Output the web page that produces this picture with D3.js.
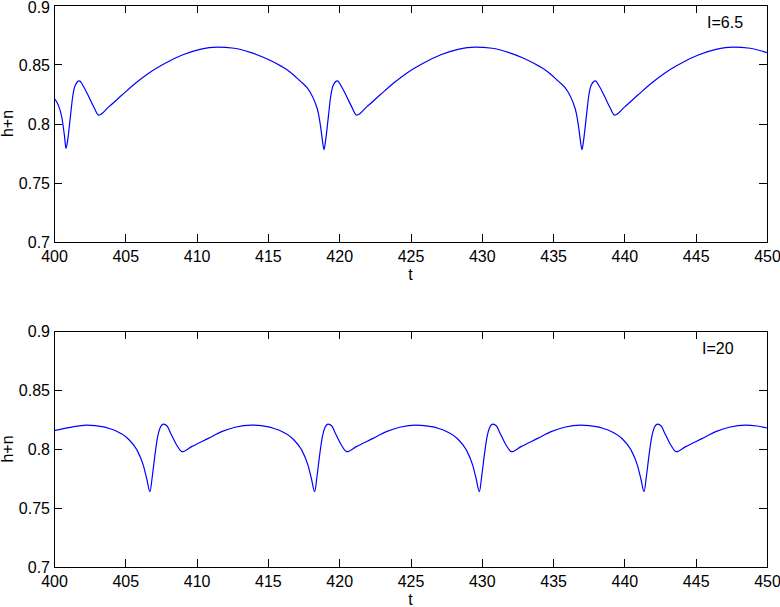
<!DOCTYPE html>
<html>
<head>
<meta charset="utf-8">
<script src="https://cdn.jsdelivr.net/npm/d3@7"></script>
<style>
  html, body { margin: 0; padding: 0; background: #fff; }
  svg { display: block; }
  text { font-family: "Liberation Sans", Arial, Helvetica, sans-serif; fill: #000; }
</style>
</head>
<body>
<svg id="chart" width="780" height="607"></svg>
<script>
// ---------- data ----------
const xDomain = [400, 450];
const yDomain = [0.7, 0.9];
const xTicks = [400, 405, 410, 415, 420, 425, 430, 435, 440, 445, 450];
const yTicks = [0.7, 0.75, 0.8, 0.85, 0.9];
const yTickLabels = ["0.7", "0.75", "0.8", "0.85", "0.9"];
const xLabel = "t";
const yLabel = "h+n";
const panelLabels = ["I=6.5", "I=20"];

// panel 1 (I=6.5)
const t1 = [400.00, 400.30, 400.54, 400.73, 400.84,
  400.96, 401.15, 401.31, 401.50, 401.78, 402.08, 402.44, 402.79, 403.14, 403.84, 404.77, 405.71, 406.64, 407.90, 409.04, 410.24, 411.44, 412.64, 413.82, 414.84, 415.98, 416.55, 417.25, 417.95, 418.30, 418.54, 418.70, 418.82, 418.93,
  419.05, 419.24, 419.40, 419.59, 419.87, 420.17, 420.53, 420.88, 421.23, 421.93, 422.86, 423.80, 424.73, 425.99, 427.13, 428.33, 429.53, 430.73, 431.91, 432.93, 434.07, 434.64, 435.34, 436.04, 436.39, 436.63, 436.79, 436.91, 437.02,
  437.14, 437.33, 437.49, 437.68, 437.96, 438.26, 438.62, 438.97, 439.32, 440.02, 440.95, 441.89, 442.82, 444.08, 445.22, 446.42, 447.62, 448.82, 450.00];
const v1 = [0.8215, 0.8156, 0.8057, 0.7900, 0.7790,
  0.7860, 0.8058, 0.8226, 0.8325, 0.8360, 0.8310, 0.8226, 0.8140, 0.8070, 0.8140, 0.8240, 0.8340, 0.8425, 0.8515, 0.8580, 0.8626, 0.8645, 0.8635, 0.8598, 0.8550, 0.8480, 0.8435, 0.8360, 0.8268, 0.8180, 0.8086, 0.7970, 0.7860, 0.7780,
  0.7860, 0.8058, 0.8226, 0.8325, 0.8360, 0.8310, 0.8226, 0.8140, 0.8070, 0.8140, 0.8240, 0.8340, 0.8425, 0.8515, 0.8580, 0.8626, 0.8645, 0.8635, 0.8598, 0.8550, 0.8480, 0.8435, 0.8360, 0.8268, 0.8180, 0.8086, 0.7970, 0.7860, 0.7780,
  0.7860, 0.8058, 0.8226, 0.8325, 0.8360, 0.8310, 0.8226, 0.8140, 0.8070, 0.8140, 0.8240, 0.8340, 0.8425, 0.8515, 0.8580, 0.8626, 0.8645, 0.8635, 0.8598];

// panel 2 (I=20)
const t2 = [400.00, 401.14, 402.28, 403.48, 403.93, 404.28, 405.21, 405.80, 406.26, 406.50, 406.73,
  406.89, 407.08, 407.27, 407.43, 407.68, 407.93, 408.13, 408.60, 408.99, 409.65, 410.82, 411.76, 412.69, 413.83, 415.03, 415.48, 415.83, 416.76, 417.35, 417.81, 418.05, 418.28,
  418.44, 418.63, 418.82, 418.98, 419.23, 419.48, 419.68, 420.15, 420.54, 421.20, 422.37, 423.31, 424.24, 425.38, 426.58, 427.03, 427.38, 428.31, 428.90, 429.36, 429.60, 429.83,
  429.99, 430.18, 430.37, 430.53, 430.78, 431.03, 431.23, 431.70, 432.09, 432.75, 433.92, 434.86, 435.79, 436.93, 438.13, 438.58, 438.93, 439.86, 440.45, 440.91, 441.15, 441.38,
  441.54, 441.73, 441.92, 442.08, 442.33, 442.58, 442.78, 443.25, 443.64, 444.30, 445.47, 446.41, 447.34, 448.48, 449.30, 450.00];
const v2 = [0.8155, 0.8184, 0.8203, 0.8188, 0.8172, 0.8157, 0.8085, 0.7995, 0.7864, 0.7750, 0.7638,
  0.7765, 0.7950, 0.8104, 0.8175, 0.8210, 0.8195, 0.8147, 0.8034, 0.7977, 0.8020, 0.8090, 0.8147, 0.8184, 0.8203, 0.8188, 0.8172, 0.8157, 0.8085, 0.7995, 0.7864, 0.7750, 0.7638,
  0.7765, 0.7950, 0.8104, 0.8175, 0.8210, 0.8195, 0.8147, 0.8034, 0.7977, 0.8020, 0.8090, 0.8147, 0.8184, 0.8203, 0.8188, 0.8172, 0.8157, 0.8085, 0.7995, 0.7864, 0.7750, 0.7638,
  0.7765, 0.7950, 0.8104, 0.8175, 0.8210, 0.8195, 0.8147, 0.8034, 0.7977, 0.8020, 0.8090, 0.8147, 0.8184, 0.8203, 0.8188, 0.8172, 0.8157, 0.8085, 0.7995, 0.7864, 0.7750, 0.7638,
  0.7765, 0.7950, 0.8104, 0.8175, 0.8210, 0.8195, 0.8147, 0.8034, 0.7977, 0.8020, 0.8090, 0.8147, 0.8184, 0.8203, 0.8195, 0.8178];

// ---------- drawing ----------
const svg = d3.select("#chart");
const left = 54, right = 767;
const panels = [
  { top: 5, bottom: 242, t: t1, v: v1, label: panelLabels[0], lx: 707 },
  { top: 331, bottom: 567, t: t2, v: v2, label: panelLabels[1], lx: 702 }
];
const fontSize = 16;
const tickLen = 8;

panels.forEach((p, pi) => {
  const x = d3.scaleLinear().domain(xDomain).range([left, right]);
  const y = d3.scaleLinear().domain(yDomain).range([p.bottom, p.top]);
  const g = svg.append("g");

  const clipId = "clip" + p.top;
  svg.append("clipPath").attr("id", clipId).append("rect")
    .attr("x", left).attr("y", p.top).attr("width", right - left).attr("height", p.bottom - p.top);

  const data = p.t.map((tt, i) => [tt, p.v[i]]);
  g.append("path")
    .datum(data)
    .attr("clip-path", `url(#${clipId})`)
    .attr("fill", "none")
    .attr("stroke", "#0000ff")
    .attr("stroke-width", 1.2)
    .attr("d", d3.line().x(d => x(d[0])).y(d => y(d[1])).curve(d3.curveMonotoneX));

  const fmtY = (d, i) => yTickLabels[i];
  const bottomAx = g.append("g").attr("transform", `translate(0,${p.bottom})`)
    .call(d3.axisBottom(x).tickValues(xTicks).tickSize(-tickLen).tickFormat(d3.format("d")));
  const topAx = g.append("g").attr("transform", `translate(0,${p.top})`)
    .call(d3.axisTop(x).tickValues(xTicks).tickSize(-tickLen).tickFormat(""));
  const leftAx = g.append("g").attr("transform", `translate(${left},0)`)
    .call(d3.axisLeft(y).tickValues(yTicks).tickSize(-tickLen).tickPadding(4).tickFormat(fmtY));
  const rightAx = g.append("g").attr("transform", `translate(${right},0)`)
    .call(d3.axisRight(y).tickValues(yTicks).tickSize(-tickLen).tickFormat(""));

  [bottomAx, topAx, leftAx, rightAx].forEach(a => {
    a.select(".domain").remove();
    a.selectAll("line").attr("stroke", "#000").attr("stroke-width", 1).attr("shape-rendering", "crispEdges");
    a.selectAll("text").attr("font-size", fontSize).attr("font-family", "'Liberation Sans', Arial, sans-serif").attr("fill", "#000");
  });
  bottomAx.selectAll("text").attr("dy", null).attr("y", 20);
  leftAx.selectAll("text").attr("dy", "0.36em");
  if (pi === 0) {
    // keep the topmost label inside the page
    leftAx.selectAll(".tick").filter(d => d === 0.9).select("text").attr("dy", "0.36em").attr("y", 1.5);
  }

  g.append("rect")
    .attr("x", left + 0.5).attr("y", p.top + 0.5)
    .attr("width", right - left).attr("height", p.bottom - p.top)
    .attr("fill", "none").attr("stroke", "#000").attr("stroke-width", 1)
    .attr("shape-rendering", "crispEdges");

  g.append("text")
    .attr("x", (left + right) / 2).attr("y", p.bottom + 38)
    .attr("text-anchor", "middle").attr("font-size", fontSize)
    .text(xLabel);
  g.append("text")
    .attr("transform", `translate(13,${(p.top + p.bottom) / 2}) rotate(-90)`)
    .attr("text-anchor", "middle").attr("font-size", fontSize)
    .text(yLabel);
  g.append("text")
    .attr("x", p.lx).attr("y", p.top + 23)
    .attr("font-size", fontSize)
    .text(p.label);
});
</script>
</body>
</html>
